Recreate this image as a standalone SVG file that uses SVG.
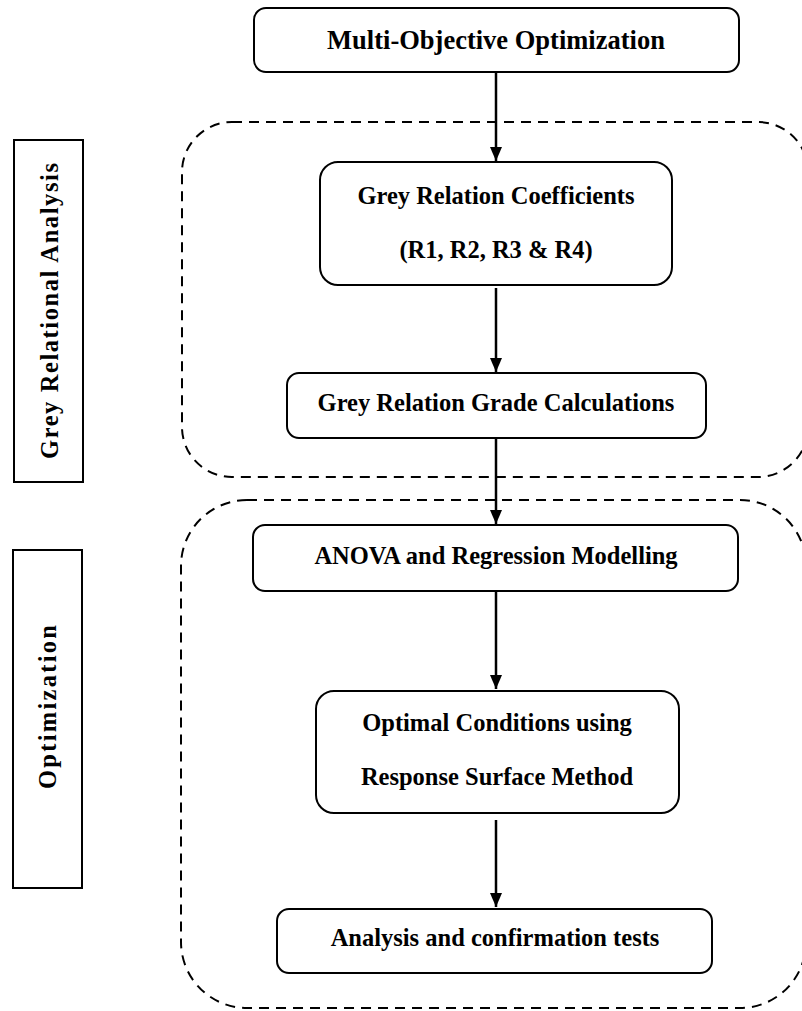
<svg xmlns="http://www.w3.org/2000/svg" width="802" height="1011" viewBox="0 0 802 1011">
<style>
.node{fill:#fff;stroke:#000;stroke-width:2}
.grp{fill:none;stroke:#000;stroke-width:2;stroke-dasharray:10 7}
.lab{fill:#fff;stroke:#000;stroke-width:2}
text{font-family:'Liberation Serif','DejaVu Serif',serif;font-weight:bold;font-size:24.5px;fill:#000;text-anchor:middle}
.conn{stroke:#000;stroke-width:2.5;fill:none}
</style>
<defs>
<marker id="ah" markerUnits="userSpaceOnUse" markerWidth="14" markerHeight="12" refX="14" refY="6" orient="auto">
<path d="M0,0 L14,6 L0,12 z" fill="#000"/>
</marker>
</defs>
<rect width="802" height="1011" fill="#fff"/>
<g id="group-gra"><rect class="grp" x="182" y="122" width="626" height="355" rx="50" ry="50"/></g>
<g id="group-opt"><rect class="grp" x="181" y="500" width="625" height="508" rx="66" ry="66"/></g>
<g id="label-gra"><rect class="lab" x="14" y="140" width="69" height="342"/><text font-family="Liberation Serif, serif" font-size="29" transform="translate(58,311) rotate(-90)" textLength="296" lengthAdjust="spacing">Grey Relational Analysis</text></g>
<g id="label-opt"><rect class="lab" x="13" y="550" width="69" height="338"/><text font-family="Liberation Serif, serif" font-size="30" transform="translate(56,707) rotate(-90)" textLength="164" lengthAdjust="spacing">Optimization</text></g>
<g id="n1"><rect class="node" x="254" y="8" width="485" height="64" rx="12"/><text font-family="Liberation Serif, serif" x="496" y="49" style="font-size:26.5px">Multi-Objective Optimization</text></g>
<g id="n2"><rect class="node" x="320" y="162" width="352" height="123" rx="18"/><text font-family="Liberation Serif, serif" x="496" y="204">Grey Relation Coefficients</text><text font-family="Liberation Serif, serif" x="496" y="258">(R1, R2, R3 &amp; R4)</text></g>
<g id="n3"><rect class="node" x="287" y="373" width="419" height="65" rx="12"/><text font-family="Liberation Serif, serif" x="496" y="411">Grey Relation Grade Calculations</text></g>
<g id="n4"><rect class="node" x="253" y="525" width="485" height="66" rx="12"/><text font-family="Liberation Serif, serif" x="496" y="564">ANOVA and Regression Modelling</text></g>
<g id="n5"><rect class="node" x="316" y="691" width="363" height="122" rx="18"/><text font-family="Liberation Serif, serif" x="497" y="731">Optimal Conditions using</text><text font-family="Liberation Serif, serif" x="497" y="785">Response Surface Method</text></g>
<g id="n6"><rect class="node" x="277" y="909" width="435" height="64" rx="12"/><text font-family="Liberation Serif, serif" x="495" y="946">Analysis and confirmation tests</text></g>
<g id="connectors">
<line class="conn" x1="496" y1="72" x2="496" y2="161" marker-end="url(#ah)"/>
<line class="conn" x1="496" y1="288" x2="496" y2="372" marker-end="url(#ah)"/>
<line class="conn" x1="496" y1="438" x2="496" y2="524" marker-end="url(#ah)"/>
<line class="conn" x1="496" y1="592" x2="496" y2="689" marker-end="url(#ah)"/>
<line class="conn" x1="496" y1="820" x2="496" y2="907" marker-end="url(#ah)"/>
</g>
</svg>
